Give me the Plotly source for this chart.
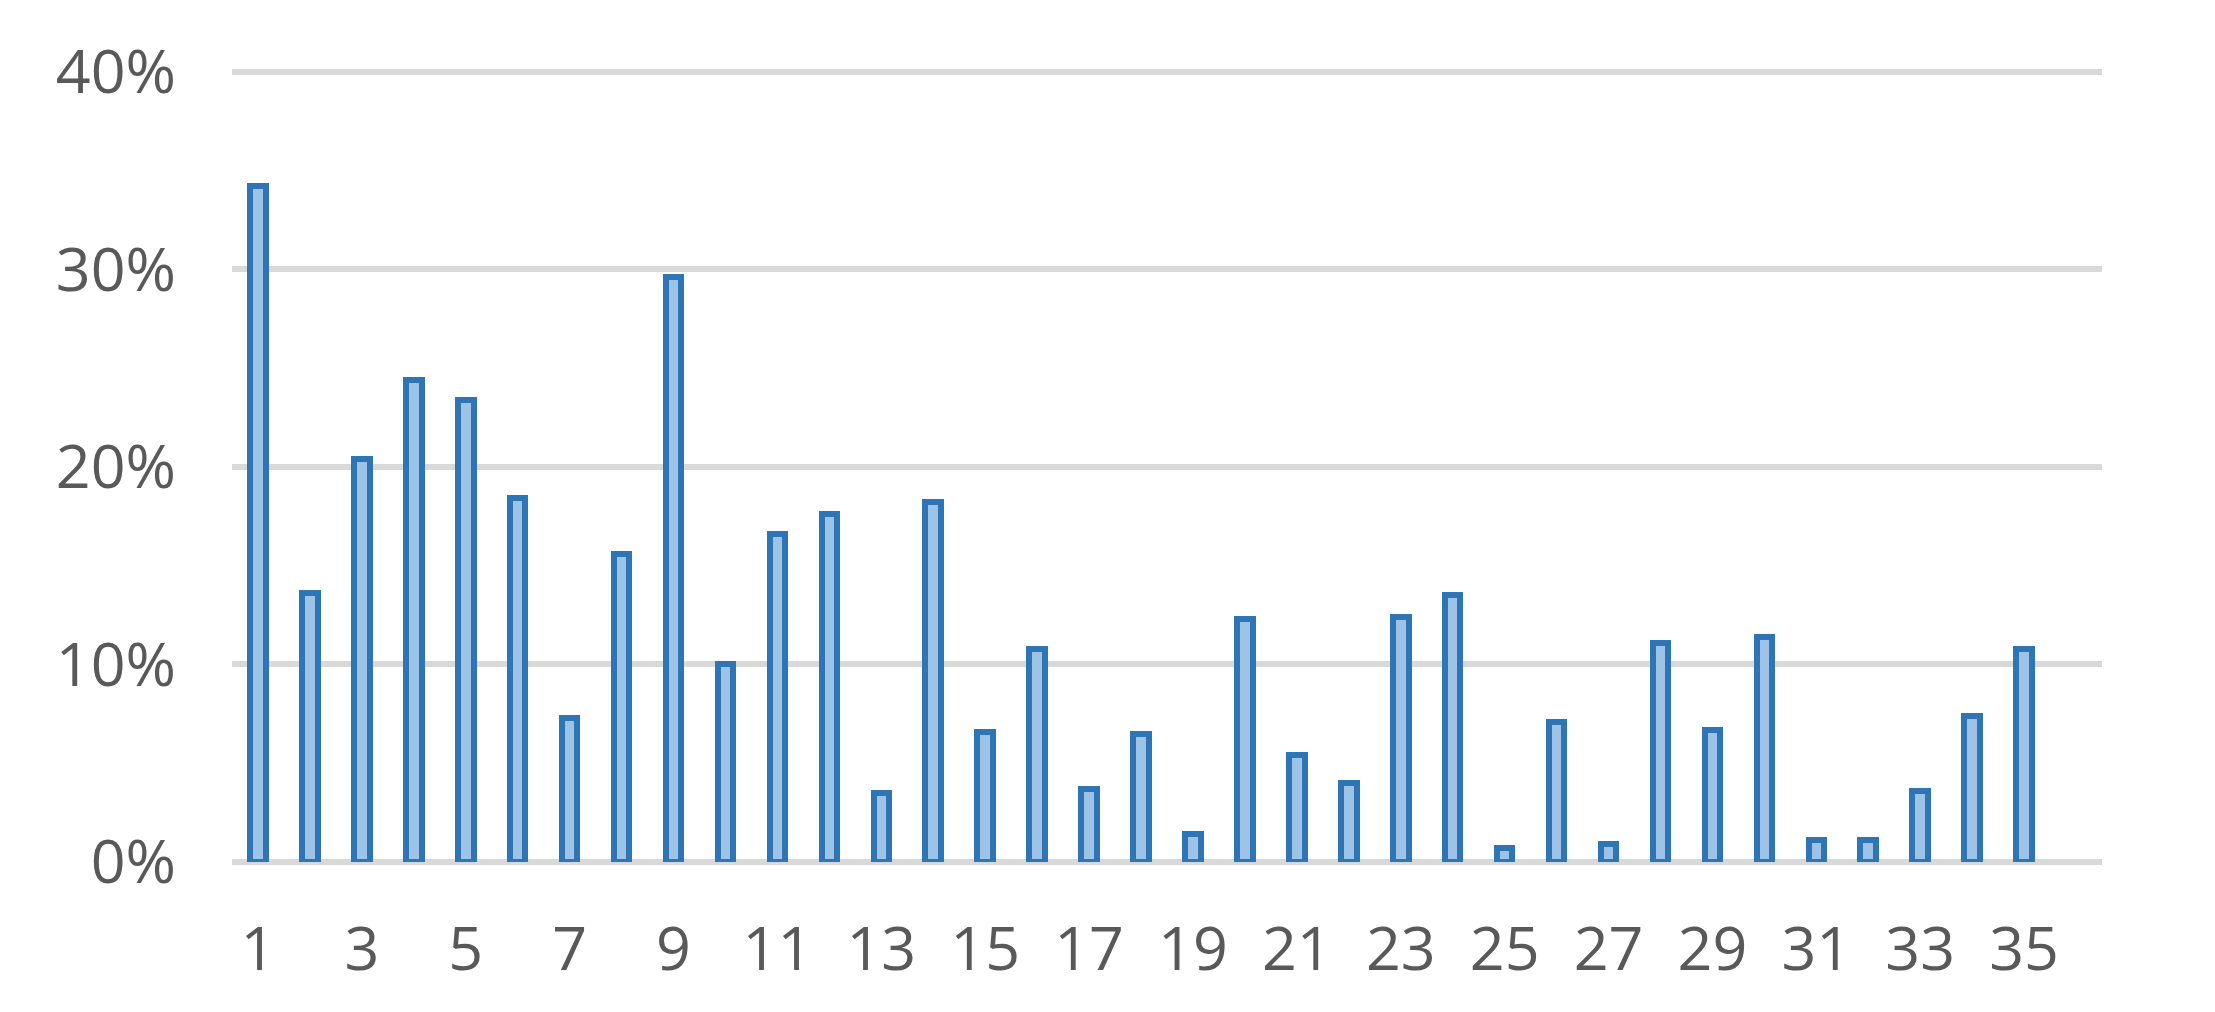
import plotly.graph_objects as go

categories = [str(i) for i in range(1, 36)]
values = [34.2, 13.6, 20.4, 24.4, 23.4, 18.4, 7.3, 15.6, 29.6, 10.0,
          16.6, 17.6, 3.5, 18.2, 6.6, 10.8, 3.7, 6.5, 1.4, 12.3,
          5.4, 4.0, 12.4, 13.5, 0.7, 7.1, 0.9, 11.1, 6.7, 11.4,
          1.1, 1.1, 3.6, 7.4, 10.8]
values = [v / 100 for v in values]
x_tick_labels = [str(i) for i in range(1, 36, 2)]
y_tick_vals = [0, 0.1, 0.2, 0.3, 0.4]
y_tick_text = ["0%", "10%", "20%", "30%", "40%"]

fig = go.Figure()
fig.add_trace(go.Bar(
    x=categories, y=values, width=0.3,
    marker=dict(color="#9DC3E6", line=dict(color="#2E75B6", width=6)),
))

font = dict(family="Open Sans, Lato, sans-serif", size=61, color="#595959")
fig.update_layout(
    width=2215, height=1012,
    margin=dict(l=224, r=121, t=44, b=158, autoexpand=False),
    paper_bgcolor="white", plot_bgcolor="white",
    showlegend=False,
    font=font,
    bargap=0,
    xaxis=dict(
        type="category", tickmode="array", tickvals=x_tick_labels, ticktext=x_tick_labels,
        range=[-0.5, 35.5],
        showgrid=False, showline=False, zeroline=False, ticks="",
        tickfont=font, ticklabelstandoff=46, automargin=False,
    ),
    yaxis=dict(
        range=[0, 0.41], tickmode="array", tickvals=y_tick_vals, ticktext=y_tick_text,
        showgrid=True, gridcolor="#D9D9D9", gridwidth=6,
        zeroline=True, zerolinecolor="#D9D9D9", zerolinewidth=6,
        showline=False, ticks="", tickfont=font, ticklabelstandoff=55, automargin=False,
    ),
)
fig.write_html("out.html")
